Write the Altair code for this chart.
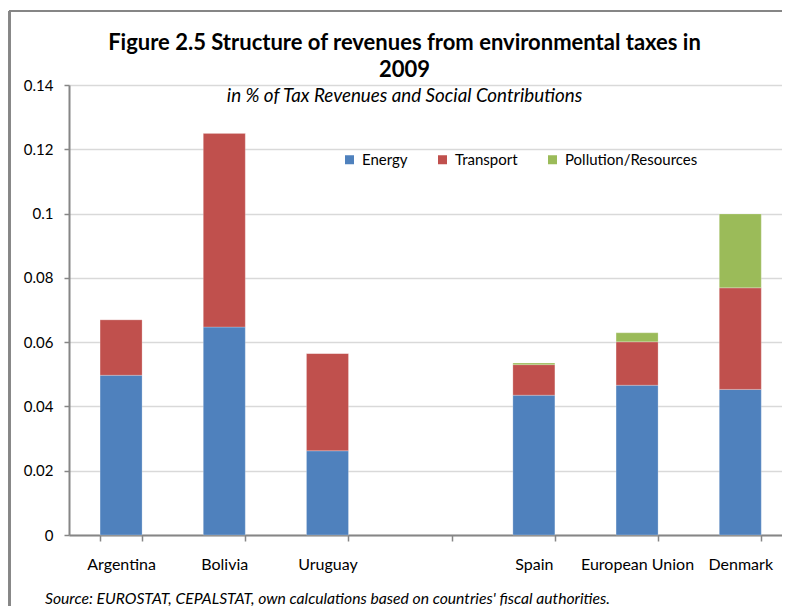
import altair as alt
import pandas as pd

countries = ["Argentina", "Bolivia", "Uruguay", "Spain", "European Union", "Denmark"]
axis_order = ["Argentina", "Bolivia", "Uruguay", " ", "Spain", "European Union", "Denmark"]
series = ["Energy", "Transport", "Pollution/Resources"]
energy = [0.0497, 0.0647, 0.0262, 0.0435, 0.0466, 0.0453]
transport = [0.0173, 0.0603, 0.0303, 0.0095, 0.0135, 0.0316]
pollution = [0.0, 0.0, 0.0, 0.0005, 0.0028, 0.0230]
colors = ["#4F81BD", "#C0504D", "#9BBB59"]
y_ticks = [0, 0.02, 0.04, 0.06, 0.08, 0.1, 0.12, 0.14]

rows = []
for i, c in enumerate(countries):
    for k, (s, vals) in enumerate(zip(series, [energy, transport, pollution])):
        rows.append({"country": c, "series": s, "order": k, "value": vals[i]})
df = pd.DataFrame(rows)

FONT = "Lato"

bars = alt.Chart(df).mark_bar(stroke="white", strokeWidth=0.4, strokeOpacity=0.6).encode(
    x=alt.X(
        "country:N",
        scale=alt.Scale(domain=axis_order, paddingInner=0.593, paddingOuter=0.251, align=0.6),
        sort=axis_order,
        axis=alt.Axis(
            title=None,
            labelAngle=0,
            tickBand="extent",
            tickSize=6,
            tickColor="#868686",
            tickWidth=1.5,
            domainColor="#868686",
            domainWidth=2,
            labelFontSize=16,
            labelColor="#000000",
            labelFont=FONT,
            labelPadding=15,
            grid=False,
        ),
    ),
    y=alt.Y(
        "value:Q",
        stack="zero",
        scale=alt.Scale(domain=[0, 0.14], nice=False),
        axis=alt.Axis(
            title=None,
            values=y_ticks,
            format="~g",
            tickSize=5,
            tickColor="#868686",
            tickWidth=1.5,
            domainColor="#868686",
            domainWidth=2,
            labelFontSize=15,
            labelColor="#000000",
            labelFont=FONT,
            labelPadding=11,
            grid=True,
            gridColor="#D9D9D9",
            gridWidth=1.5,
        ),
    ),
    color=alt.Color(
        "series:N",
        scale=alt.Scale(domain=series, range=colors),
        legend=alt.Legend(
            title=None,
            orient="none",
            direction="horizontal",
            legendX=273,
            legendY=67,
            symbolType="square",
            symbolSize=81,
            symbolStrokeWidth=0,
            labelFontSize=15,
            labelFont=FONT,
            labelColor="#000000",
            labelOffset=5,
            columnPadding=27,
            padding=0,
        ),
    ),
    order=alt.Order("order:Q"),
)

frame_left = alt.Chart(df).mark_rule(color="#868686", strokeWidth=1.5).encode(
    x=alt.value(-59.5), y=alt.value(-74), y2=alt.value(560)
)
frame_top = alt.Chart(df).mark_rule(color="#868686", strokeWidth=1.5).encode(
    x=alt.value(-59.5), x2=alt.value(760), y=alt.value(-74)
)

source = alt.Chart(pd.DataFrame({"t": ["Source: EUROSTAT,  CEPALSTAT, own calculations based on countries' fiscal authorities."]})).mark_text(
    align="left", baseline="middle", fontSize=15.7, fontStyle="italic", font=FONT, color="#000000"
).encode(x=alt.value(-24), y=alt.value(514), text="t:N")

chart = alt.layer(frame_left, frame_top, bars, source).properties(
    width=713,
    height=450,
    autosize=alt.AutoSizeParams(type="none"),
    padding={"left": 61, "top": 77, "right": 0, "bottom": 71},
    title=alt.TitleParams(
        text=["Figure 2.5 Structure of revenues from environmental taxes in", "2009"],
        subtitle="in % of Tax Revenues and Social Contributions",
        fontSize=22,
        fontWeight="bold",
        font=FONT,
        color="#000000",
        lineHeight=27,
        subtitleFont=FONT,
        subtitleFontSize=18.8,
        subtitleFontStyle="italic",
        subtitleColor="#000000",
        subtitlePadding=5,
        anchor="middle",
        frame="group",
        dx=-21,
        offset=-97,
    ),
).configure_view(stroke=None)

chart.save("out.html", embed_options={"renderer": "svg", "actions": False})
